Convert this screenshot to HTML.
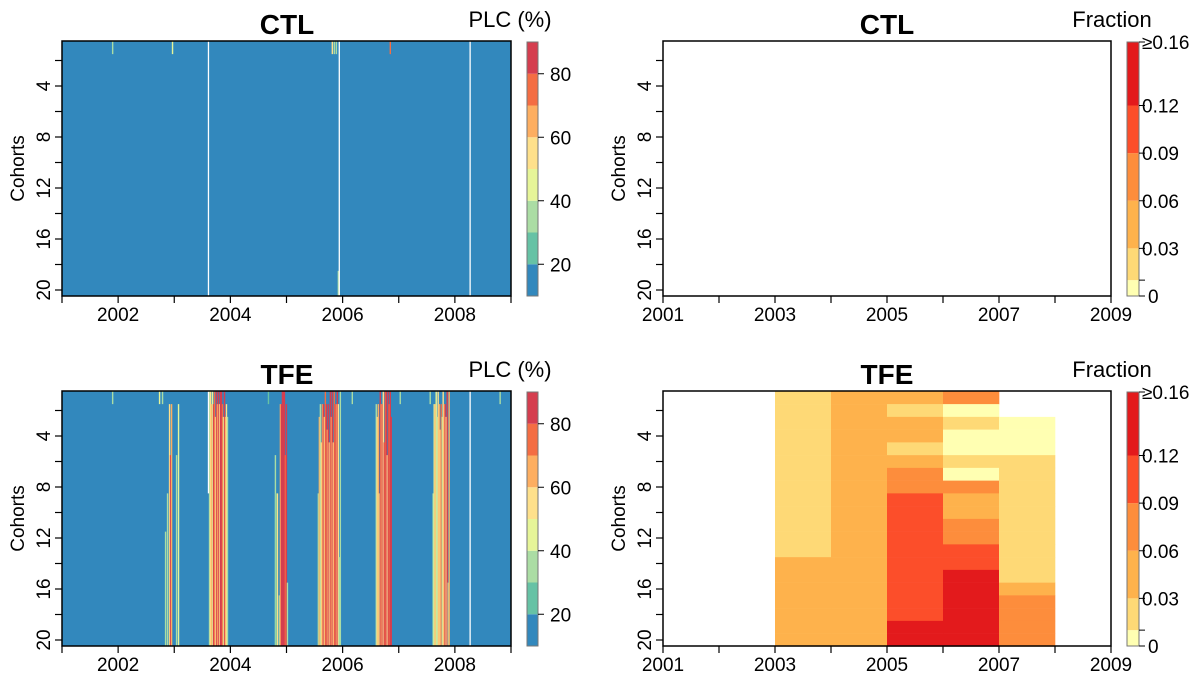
<!DOCTYPE html>
<html><head><meta charset="utf-8"><style>
html,body{margin:0;padding:0;background:#fff;}
svg{display:block;font-family:"Liberation Sans",Arial,sans-serif;}
</style></head><body>
<svg id="chart" width="1203" height="678" viewBox="0 0 1203 678"></svg>
<script>
// ---- data ----
const plcBreaks = [10,20,30,40,50,60,70,80,90];
const plcColors = ["#3288bd","#66c2a5","#abdda4","#e6f598","#fee08b","#fdae61","#f46d43","#d53e4f"];
const plcTicks = [20,40,60,80];
const fracBreaks = [0,0.01,0.03,0.06,0.09,0.12,0.16];
const fracColors = ["#ffffb2","#fed976","#feb24c","#fd8d3c","#fc4e2a","#e31a1c"];
const fracTicks = [0,0.03,0.06,0.09,0.12,0.16];
const fracTickLabels = ["0","0.03","0.06","0.09","0.12","\u22650.16"];
const leftYearLabels = [2002,2004,2006,2008];
const rightYearLabels = [2001,2003,2005,2007,2009];
const cohortLabels = [4,8,12,16,20];
const baseValue = 12;
// CTL stripes: year, PLC value, first cohort row affected, last row
const ctlYear = [2001.890,2002.957,2005.804,2005.840,2005.876,2005.911,2006.837];
const ctlValue = [30,45,55,35,30,30,75];
const ctlFrom = [1,1,1,1,1,19,1];
const ctlTo = [1,1,1,1,1,20,1];
const ctlNaYear = [2003.598,2005.929,2008.260];
// TFE stripes
const tfeYear = [2001.890,2002.726,2002.779,
 2002.833,2002.868,2002.904,2002.922,2002.940,2003.029,2003.064,
 2003.616,2003.634,2003.651,2003.669,2003.687,2003.705,2003.723,2003.740,2003.758,2003.776,2003.794,2003.811,2003.829,2003.847,2003.865,2003.883,2003.900,2003.918,2003.936,
 2004.666,2004.790,2004.808,2004.826,2004.861,2004.879,2004.897,2004.915,2004.932,2004.950,2004.968,2004.986,2005.004,
 2005.555,2005.573,2005.591,2005.609,2005.626,2005.644,2005.662,2005.680,2005.698,2005.715,2005.733,2005.751,2005.769,2005.786,2005.804,2005.822,2005.840,2005.858,2005.876,2005.893,2005.911,2005.929,2005.947,
 2006.160,2007.014,
 2006.587,2006.605,2006.623,2006.641,2006.658,2006.676,2006.694,2006.712,2006.730,2006.747,2006.765,2006.783,2006.801,2006.819,2006.837,2006.854,
 2007.548,2007.601,2007.619,2007.637,2007.655,2007.673,2007.690,2007.708,2007.726,2007.744,2007.762,2007.779,2007.797,2007.815,2007.833,2007.851,2007.868,2007.886,
 2008.794];
const tfeValue = [30,45,30,
 30,35,55,85,65,30,45,
 35,55,65,45,85,75,55,85,65,85,55,85,80,70,45,85,65,50,30,
 25,30,25,55,35,65,85,85,88,85,75,85,30,
 35,65,30,55,65,85,55,75,85,65,85,55,85,65,85,50,75,85,65,85,55,35,30,
 30,30,
 30,55,65,45,85,65,85,55,85,75,85,55,85,70,85,80,
 30,35,45,60,48,30,55,65,55,75,35,55,65,85,55,85,35,65,
 30];
const tfeFrom = [1,1,1,
 12,9,2,6,2,6,2,
 1,1,2,1,2,1,3,1,2,1,2,1,1,2,3,1,3,2,3,
 1,6,9,9,17,2,2,1,1,1,6,2,16,
 9,3,2,5,2,2,3,1,2,4,2,5,1,3,1,5,1,2,2,1,2,14,1,
 1,1,
 2,3,2,9,1,2,2,1,5,1,1,6,1,2,1,3,
 1,9,2,2,1,3,1,2,4,2,3,1,2,2,3,1,16,1,
 1];
const tfeTo = [1,1,1,
 20,20,20,20,20,20,20,
 20,20,20,20,20,20,20,20,20,20,20,20,20,20,20,20,20,20,20,
 1,20,20,20,20,20,20,20,20,20,20,20,20,
 20,20,20,20,20,20,20,20,20,20,20,20,20,20,20,20,20,20,20,20,20,20,20,
 1,1,
 20,20,20,20,20,20,20,20,20,20,20,20,20,20,20,20,
 1,20,20,20,20,20,20,20,20,20,20,20,20,20,20,20,20,20,
 1];
const tfeNaYear = [2003.598,2008.260];
const tfeNaTo = [8,20];
// Fraction (TFE), per yearly column 2001..2008, cohorts 1..20
const fracYears = [2001,2002,2003,2004,2005,2006,2007,2008];
const frac2001 = Array(20).fill(null);
const frac2002 = Array(20).fill(null);
const frac2003 = [.02,.02,.02,.02,.02,.02,.02,.02,.02,.02,.02,.02,.02,.045,.045,.045,.045,.045,.045,.045];
const frac2004 = [.045,.045,.045,.045,.045,.045,.045,.045,.045,.045,.045,.045,.045,.045,.045,.045,.045,.045,.045,.045];
const frac2005 = [.045,.02,.045,.045,.02,.045,.075,.075,.105,.105,.105,.105,.105,.105,.105,.105,.105,.105,.14,.14];
const frac2006 = [.075,.005,.02,.005,.005,.02,.005,.075,.045,.045,.075,.075,.105,.105,.14,.14,.14,.14,.14,.14];
const frac2007 = [null,null,.005,.005,.005,.02,.02,.02,.02,.02,.02,.02,.02,.02,.02,.045,.075,.075,.075,.075];
const frac2008 = Array(20).fill(null);
const fracCols = [frac2001,frac2002,frac2003,frac2004,frac2005,frac2006,frac2007,frac2008];

// ---- drawing ----
const NS = "http://www.w3.org/2000/svg";
const svg = document.getElementById("chart");
function mk(tag, attrs, parent, text){
  const e = document.createElementNS(NS, tag);
  for (const k in attrs) e.setAttribute(k, attrs[k]);
  if (text !== undefined) e.textContent = text;
  (parent || svg).appendChild(e);
  return e;
}
function plcColor(v){
  for (let i=plcColors.length-1;i>=0;i--) if (v>=plcBreaks[i]) return plcColors[i];
  return plcColors[0];
}
function fracColor(v){
  for (let i=fracColors.length-1;i>=0;i--) if (v>=fracBreaks[i]) return fracColors[i];
  return fracColors[0];
}

function panel(top, isLeft, title, name){
  const x0 = isLeft ? 62 : 663, x1 = isLeft ? 511 : 1111;
  const y0 = top, y1 = top + 255;
  const xs = y => x0 + (y - 2001) * (x1 - x0) / 8;
  const ys = c => y1 - 6 + (c - 20) * 12.75;
  const g = mk("g", {}, svg);
  
  
  return {g, x0, x1, y0, y1, xs, ys};
}

function axes(p, isLeft, title, legendTitle, name){
  const {g,x0,x1,y0,y1,xs,ys} = p;
  const frame = mk("rect", {x:x0, y:y0, width:x1-x0, height:y1-y0, fill:"none", stroke:"#000", "stroke-width":1.5}, g);
  
  
  for (let c=2;c<=20;c+=2){
    const t = mk("line", {x1:x0-7, x2:x0, y1:ys(c), y2:ys(c), stroke:"#000", "stroke-width":1.2}, g);
    
    
  }
  cohortLabels.forEach(c=>{
    const tx = mk("text", {x:0, y:0, transform:`translate(${x0-12},${ys(c)}) rotate(-90)`, "text-anchor":"middle", "font-size":19}, g, String(c));
    
    
  });
  const yt = mk("text", {x:0,y:0, transform:`translate(${x0-38},${(y0+y1)/2}) rotate(-90)`, "text-anchor":"middle", "font-size":19}, g, "Cohorts");
  
  
  for (let yr=2001; yr<=2009; yr++){
    const t = mk("line", {x1:xs(yr), x2:xs(yr), y1:y1, y2:y1+7, stroke:"#000", "stroke-width":1.2}, g);
    
    
  }
  (isLeft ? leftYearLabels : rightYearLabels).forEach(yr=>{
    const tx = mk("text", {x:xs(yr), y:y1+25, "text-anchor":"middle", "font-size":19}, g, String(yr));
    
    
  });
  const ti = mk("text", {x:isLeft?287:887, y:y0-7, "text-anchor":"middle", "font-size":28, "font-weight":"bold"}, g, title);
  
  
  const lt = mk("text", {x:isLeft?510:1112, y:y0-14, "text-anchor":"middle", "font-size":22}, g, legendTitle);
  
  
}

function plcColorbar(p){
  const {g,y0,y1} = p;
  const cx0 = 527, cx1 = 538;
  const vy = v => y1 - (v - 10) * (y1 - y0 - 1) / 80;
  for (let i=0;i<plcColors.length;i++){
    const r = mk("rect", {x:cx0, y:vy(plcBreaks[i+1]), width:cx1-cx0, height:vy(plcBreaks[i])-vy(plcBreaks[i+1]), fill:plcColors[i]}, g);
    
    
  }
  const f = mk("rect", {x:cx0, y:vy(90), width:cx1-cx0, height:vy(10)-vy(90), fill:"none", stroke:"#777", "stroke-width":1}, g);
  
  
  plcTicks.forEach(v=>{
    const t = mk("line", {x1:cx1, x2:cx1+6, y1:vy(v), y2:vy(v), stroke:"#000"}, g);
    
    
    const tx = mk("text", {x:cx1+12, y:vy(v)+7, "font-size":19}, g, String(v));
    
    
  });
}

function fracColorbar(p){
  const {g,y0,y1} = p;
  const cx0 = 1127, cx1 = 1139;
  const vy = v => y1 - v * (y1 - y0 - 1) / 0.16;
  for (let i=0;i<fracColors.length;i++){
    const r = mk("rect", {x:cx0, y:vy(fracBreaks[i+1]), width:cx1-cx0, height:vy(fracBreaks[i])-vy(fracBreaks[i+1]), fill:fracColors[i]}, g);
    
    
  }
  const f = mk("rect", {x:cx0, y:vy(0.16), width:cx1-cx0, height:vy(0)-vy(0.16), fill:"none", stroke:"#777", "stroke-width":1}, g);
  
  
  fracBreaks.forEach(v=>{
    const t = mk("line", {x1:cx1, x2:cx1+6, y1:vy(v), y2:vy(v), stroke:"#000"}, g);
    
    
  });
  fracTicks.forEach((v,i)=>{
    const tx = mk("text", {x:cx1+3, y:vy(v)+7, "font-size":19}, g, fracTickLabels[i]);
    if (i===0) tx.setAttribute("x", cx1+9);
    
    
  });
}

function plcHeatmap(p, years, vals, from, to, naYears, naTo, name){
  const {g,x0,x1,y0,y1,xs,ys} = p;
  const bg = mk("rect", {x:x0, y:y0, width:x1-x0, height:y1-y0, fill:plcColor(baseValue)}, g);
  
  
  years.forEach((yr,i)=>{
    const top = ys(from[i]-0.5), bot = ys(to[i]+0.5);
    const r = mk("rect", {x:xs(yr), y:top, width:1.4, height:bot-top, fill:plcColor(vals[i])}, g);
    
    
  });
  naYears.forEach((yr,i)=>{
    const last = naTo ? naTo[i] : 20;
    const r = mk("rect", {x:xs(yr), y:ys(0.5), width:1.3, height:ys(last+0.5)-ys(0.5), fill:"#fff"}, g);
    
    
  });
}

function fracHeatmap(p, cols, name){
  const {g,xs,ys} = p;
  cols.forEach((col,ci)=>{
    const yr = fracYears[ci];
    col.forEach((v,ri)=>{
      if (v===null) return;
      const c = ri+1;
      const r = mk("rect", {x:xs(yr), y:ys(c-0.5), width:xs(yr+1)-xs(yr)+0.3, height:ys(c+0.5)-ys(c-0.5)+0.3, fill:fracColor(v)}, g);
      
      
    });
  });
}

let p = panel(41, true, "CTL", "ctl-plc");
plcHeatmap(p, ctlYear, ctlValue, ctlFrom, ctlTo, ctlNaYear, null, "ctl-plc");
axes(p, true, "CTL", "PLC (%)", "ctl-plc");
plcColorbar(p);
p = panel(391, true, "TFE", "tfe-plc");
plcHeatmap(p, tfeYear, tfeValue, tfeFrom, tfeTo, tfeNaYear, tfeNaTo, "tfe-plc");
axes(p, true, "TFE", "PLC (%)", "tfe-plc");
plcColorbar(p);
p = panel(41, false, "CTL", "ctl-fraction");
axes(p, false, "CTL", "Fraction", "ctl-fraction");
fracColorbar(p);
p = panel(391, false, "TFE", "tfe-fraction");
fracHeatmap(p, fracCols, "tfe-fraction");
axes(p, false, "TFE", "Fraction", "tfe-fraction");
fracColorbar(p);
</script>
</body></html>
